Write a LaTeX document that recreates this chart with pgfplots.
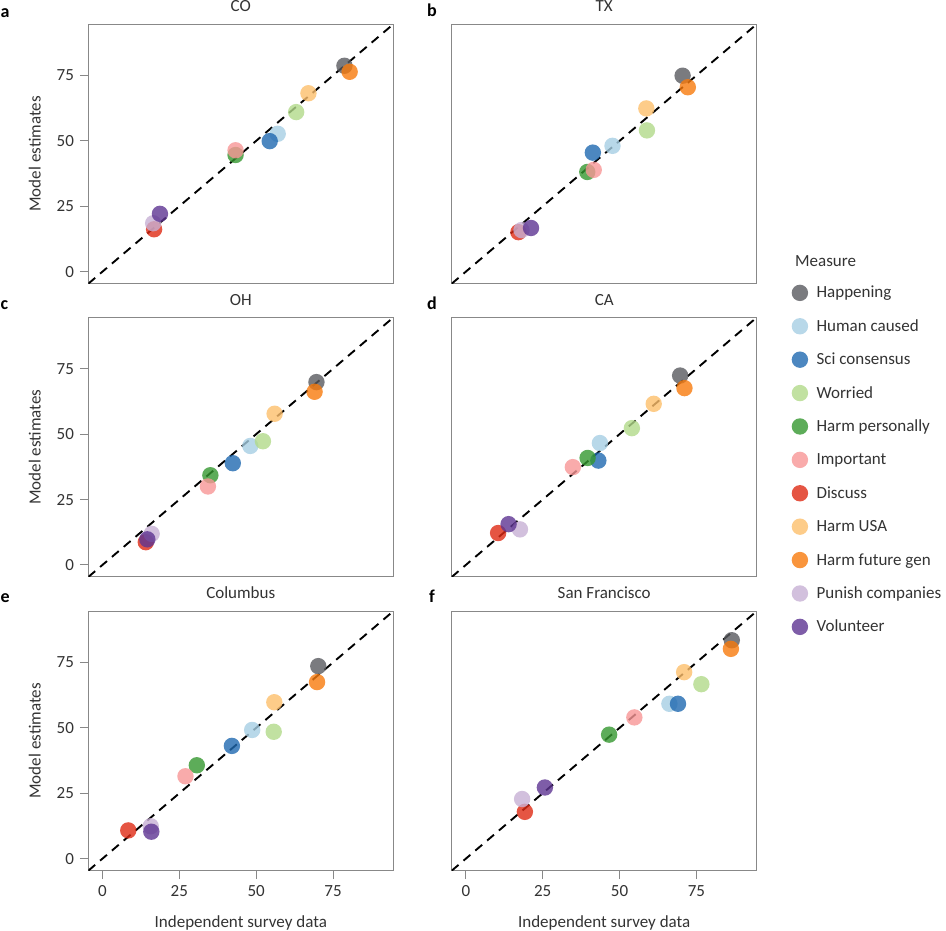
\documentclass[border=0pt]{standalone}
\usepackage{pgfplots}
\pgfplotsset{compat=1.18}
\usepackage{fontspec}
\setmainfont{Carlito}
\definecolor{txt}{HTML}{333333}
\definecolor{axg}{HTML}{888888}
\definecolor{cHap}{HTML}{595A5F}
\definecolor{cHum}{HTML}{A6CEE3}
\definecolor{cSci}{HTML}{1F69B0}
\definecolor{cWor}{HTML}{B2DA8A}
\definecolor{cHP}{HTML}{35972F}
\definecolor{cImp}{HTML}{F79696}
\definecolor{cDis}{HTML}{DF2A14}
\definecolor{cHUSA}{HTML}{FDBF6C}
\definecolor{cHFG}{HTML}{F77A0C}
\definecolor{cPun}{HTML}{C7B0D4}
\definecolor{cVol}{HTML}{5E3592}
\newcommand{\fs}{\fontsize{17}{19}\selectfont}
\pgfplotsset{
  pt/.style={only marks, mark=*, mark size=8.2pt, color=#1,
     mark options={fill=#1, draw opacity=0, fill opacity=0.8},
     legend image code/.code={\draw[##1] plot coordinates {(0pt,0pt)};}},
  diag/.style={forget plot, black, line width=1.9pt, dash pattern=on 9pt off 6.5pt},
  panel/.style={scale only axis, width=305pt, height=259.5pt,
     xmin=-4.6, xmax=94.6, ymin=-4.6, ymax=94.6,
     anchor=south west,
     font=\fs,
     axis line style={draw=axg, line width=1pt},
     tick style={draw=axg, line width=1pt},
     tick align=outside, major tick length=8.5pt,
     xtick pos=lower, ytick pos=lower,
     xtick={0,25,50,75}, ytick={0,25,50,75},
     /pgf/number format/assume math mode=true,
     tick label style={text=txt, font=\fs},
     yticklabel style={xshift=-2.4pt},
     xticklabel style={yshift=-2.4pt},
     title style={at={(0.5,1)}, anchor=base, yshift=6.2pt, text=txt, font=\fs},
     xlabel style={at={(axis description cs:0.5,-0.217)}, anchor=base, text=txt},
     ylabel style={at={(axis description cs:-0.1567,0.5)}, anchor=base, text=txt},
  },
}
\begin{document}
\begin{tikzpicture}[font=\fs]
\path[use as bounding box] (0pt,0pt) rectangle (946pt,931pt);

% a: CO
\begin{axis}[panel, at={(88.3pt,647.3pt)}, title={CO}, xtick=\empty, ylabel={Model estimates}]
\addplot[diag] coordinates {(-4.6,-4.6) (94.6,94.6)};
\addplot[pt=cHap] coordinates {(78.7,78.7)};
\addplot[pt=cHum] coordinates {(57.0,52.7)};
\addplot[pt=cSci] coordinates {(54.4,49.9)};
\addplot[pt=cWor] coordinates {(63.0,61.0)};
\addplot[pt=cHP] coordinates {(43.3,44.6)};
\addplot[pt=cImp] coordinates {(43.3,46.4)};
\addplot[pt=cDis] coordinates {(16.8,16.2)};
\addplot[pt=cHUSA] coordinates {(67.0,68.2)};
\addplot[pt=cHFG] coordinates {(80.4,76.4)};
\addplot[pt=cPun] coordinates {(16.5,18.5)};
\addplot[pt=cVol] coordinates {(18.7,22.1)};
\end{axis}

% b: TX
\begin{axis}[panel, at={(451.7pt,647.3pt)}, title={TX}, xtick=\empty, ytick=\empty]
\addplot[diag] coordinates {(-4.6,-4.6) (94.6,94.6)};
\addplot[pt=cHap] coordinates {(70.5,74.9)};
\addplot[pt=cHum] coordinates {(47.7,48.1)};
\addplot[pt=cSci] coordinates {(41.3,45.5)};
\addplot[pt=cWor] coordinates {(58.9,54.0)};
\addplot[pt=cHP] coordinates {(39.5,38.1)};
\addplot[pt=cImp] coordinates {(41.6,38.9)};
\addplot[pt=cDis] coordinates {(17.1,15.1)};
\addplot[pt=cHUSA] coordinates {(58.7,62.4)};
\addplot[pt=cHFG] coordinates {(72.2,70.5)};
\addplot[pt=cPun] coordinates {(18.1,15.9)};
\addplot[pt=cVol] coordinates {(21.2,16.7)};
\end{axis}

% c: OH
\begin{axis}[panel, at={(88.3pt,354pt)}, title={OH}, xtick=\empty, ylabel={Model estimates}]
\addplot[diag] coordinates {(-4.6,-4.6) (94.6,94.6)};
\addplot[pt=cHap] coordinates {(69.6,69.9)};
\addplot[pt=cHum] coordinates {(48.1,45.5)};
\addplot[pt=cSci] coordinates {(42.4,38.9)};
\addplot[pt=cWor] coordinates {(52.2,47.3)};
\addplot[pt=cHP] coordinates {(35.1,34.3)};
\addplot[pt=cImp] coordinates {(34.3,30.0)};
\addplot[pt=cDis] coordinates {(14.1,8.7)};
\addplot[pt=cHUSA] coordinates {(56.0,57.8)};
\addplot[pt=cHFG] coordinates {(69.0,66.2)};
\addplot[pt=cPun] coordinates {(16.0,11.9)};
\addplot[pt=cVol] coordinates {(14.6,9.8)};
\end{axis}

% d: CA (with legend)
\begin{axis}[panel, at={(451.7pt,354pt)}, title={CA}, xtick=\empty, ytick=\empty,
  legend cell align=left,
  legend style={draw=none, fill=none, at={(1.1141,1.138)}, anchor=north west,
    inner sep=0pt, row sep=11.4pt, column sep=6.5pt,
    nodes={inner sep=2pt, text height=14pt, text depth=4pt, text=txt}, font=\fs}]
\addplot[diag] coordinates {(-4.6,-4.6) (94.6,94.6)};
\addplot[pt=cHap] coordinates {(69.7,72.4)}; \addlegendentry{Happening}
\addplot[pt=cHum] coordinates {(43.6,46.6)}; \addlegendentry{Human caused}
\addplot[pt=cSci] coordinates {(43.1,39.9)}; \addlegendentry{Sci consensus}
\addplot[pt=cWor] coordinates {(54.0,52.3)}; \addlegendentry{Worried}
\addplot[pt=cHP] coordinates {(39.6,40.9)}; \addlegendentry{Harm personally}
\addplot[pt=cImp] coordinates {(34.8,37.4)}; \addlegendentry{Important}
\addplot[pt=cDis] coordinates {(10.5,12.2)}; \addlegendentry{Discuss}
\addplot[pt=cHUSA] coordinates {(61.1,61.6)}; \addlegendentry{Harm USA}
\addplot[pt=cHFG] coordinates {(71.1,67.6)}; \addlegendentry{Harm future gen}
\addplot[pt=cPun] coordinates {(17.6,13.6)}; \addlegendentry{Punish companies}
\addplot[pt=cVol] coordinates {(13.9,15.6)}; \addlegendentry{Volunteer}
\end{axis}

% e: Columbus
\begin{axis}[panel, at={(88.3pt,60.3pt)}, title={Columbus}, ylabel={Model estimates}, xlabel={Independent survey data}]
\addplot[diag] coordinates {(-4.6,-4.6) (94.6,94.6)};
\addplot[pt=cHap] coordinates {(70.2,73.6)};
\addplot[pt=cHum] coordinates {(48.7,49.2)};
\addplot[pt=cSci] coordinates {(42.1,43.1)};
\addplot[pt=cWor] coordinates {(55.7,48.5)};
\addplot[pt=cHP] coordinates {(30.7,35.7)};
\addplot[pt=cImp] coordinates {(27.0,31.5)};
\addplot[pt=cDis] coordinates {(8.4,10.8)};
\addplot[pt=cHUSA] coordinates {(55.9,59.8)};
\addplot[pt=cHFG] coordinates {(69.8,67.5)};
\addplot[pt=cPun] coordinates {(15.7,12.4)};
\addplot[pt=cVol] coordinates {(15.9,10.3)};
\end{axis}

% f: San Francisco
\begin{axis}[panel, at={(451.7pt,60.3pt)}, title={San Francisco}, ytick=\empty, xlabel={Independent survey data}]
\addplot[diag] coordinates {(-4.6,-4.6) (94.6,94.6)};
\addplot[pt=cHap] coordinates {(86.5,83.5)};
\addplot[pt=cHum] coordinates {(66.2,59.2)};
\addplot[pt=cSci] coordinates {(69.0,59.2)};
\addplot[pt=cWor] coordinates {(76.6,66.7)};
\addplot[pt=cHP] coordinates {(46.6,47.4)};
\addplot[pt=cImp] coordinates {(54.8,54.0)};
\addplot[pt=cDis] coordinates {(19.2,17.9)};
\addplot[pt=cHUSA] coordinates {(71.0,71.3)};
\addplot[pt=cHFG] coordinates {(86.2,80.2)};
\addplot[pt=cPun] coordinates {(18.3,22.8)};
\addplot[pt=cVol] coordinates {(25.7,27.2)};
\end{axis}

% panel letters and legend title
\begin{scope}[every node/.style={anchor=base west, inner sep=0pt, font=\bfseries\fontsize{18}{18}\selectfont}]
\node at (0.5pt,913.7pt) {a};
\node at (427pt,914.3pt) {b};
\node at (0.5pt,621pt) {c};
\node at (427pt,621pt) {d};
\node at (0.5pt,328.3pt) {e};
\node at (429pt,328.3pt) {f};
\end{scope}
\node[anchor=base west, text=txt, inner sep=0pt] at (795pt,664.3pt) {Measure};
\end{tikzpicture}
\end{document}
